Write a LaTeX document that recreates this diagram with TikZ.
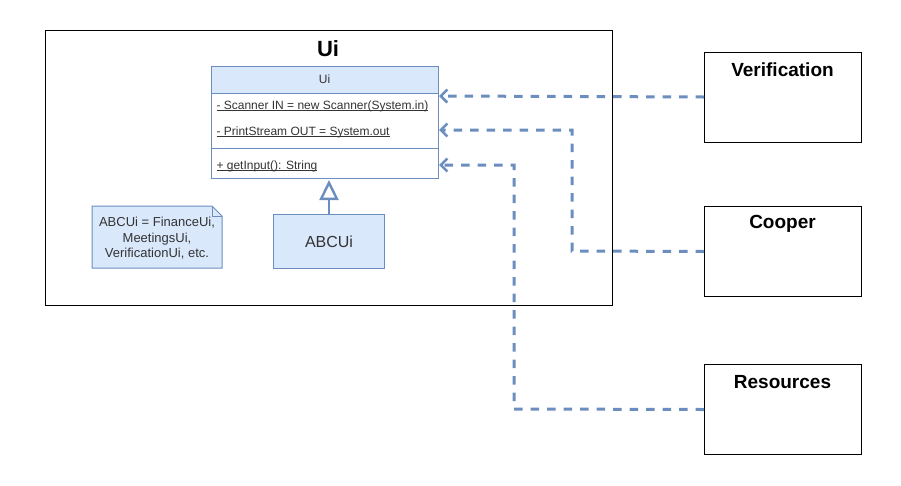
\documentclass[tikz,border=0pt]{standalone}
\usepackage{fontspec}
\setmainfont{Liberation Sans}
\newcommand\myul[1]{\setbox0=\hbox{#1}\rlap{\rule[-2pt]{\wd0}{0.8pt}}\box0}
\usetikzlibrary{arrows.meta}
\definecolor{bstroke}{HTML}{6C8EBF}
\definecolor{bfill}{HTML}{DAE8FC}
\definecolor{txt}{HTML}{333333}
\begin{document}
\begin{tikzpicture}[x=1pt,y=-1pt,
  blue box/.style={draw=bstroke,fill=bfill,line width=1pt},
  plain box/.style={draw=black,line width=1pt},
  dep/.style={draw=bstroke,line width=3pt,dash pattern=on 8.5pt off 8pt,-{Straight Barb[length=6.5pt,width=13pt,line width=2.6pt]}},
  attr/.style={anchor=west,font=\fontsize{12}{14}\selectfont,text=txt},
  title/.style={font=\bfseries\fontsize{19}{21}\selectfont}]
\useasboundingbox (0,0) rectangle (901,485);
% outer container
\node[plain box,minimum width=567pt,minimum height=275pt,anchor=north west,inner sep=0pt] (cont) at (45,30) {};
\node[font=\bfseries\fontsize{22}{24}\selectfont] (conttitle) at (328,49) {Ui};
% class
\node[blue box,minimum width=227pt,minimum height=27pt,anchor=north west,inner sep=0pt] (hdr) at (211,66) {};
\node[font=\fontsize{12}{14}\selectfont,text=txt] (hdrt) at (324.5,79.5) {Ui};
\node[draw=bstroke,fill=white,line width=1pt,minimum width=227pt,minimum height=55pt,anchor=north west,inner sep=0pt] (attrs) at (211,93) {};
\node[draw=bstroke,fill=white,line width=1pt,minimum width=227pt,minimum height=30pt,anchor=north west,inner sep=0pt] (meths) at (211,148) {};
\node[attr] (a1) at (213,106) {\myul{- Scanner IN = new Scanner(System.in)}};
\node[attr] (a2) at (213,132) {\myul{- PrintStream OUT = System.out}};
\node[attr] (m1) at (213,166) {\myul{+ getInput(): String}};
\coordinate (c1) at (439,96);
\coordinate (c2) at (439,130);
\coordinate (c3) at (439,165);
% ABCUi
\node[blue box,minimum width=111pt,minimum height=54pt,anchor=north west,inner sep=0pt] (abc) at (273,214) {};
\node[font=\fontsize{16}{18}\selectfont,text=txt] (abct) at (abc.center) {ABCUi};
\draw[draw=bstroke,line width=2.4pt,-{Triangle[open,length=20pt,width=19pt,line width=2.4pt,fill=white]}] (abc.north) -- (abc.north |- 0,180);
% note
\draw[blue box] (92,206) -- (212,206) -- (222,216) -- (222,268) -- (92,268) -- cycle;
\draw[draw=bstroke,line width=1pt] (212,206) -- (212,216) -- (222,216);
\node[align=center,font=\fontsize{13}{15.5}\selectfont,text=txt] (note) at (157,238.5) {ABCUi = FinanceUi,\\MeetingsUi,\\VerificationUi, etc.};
% right boxes
\node[plain box,minimum width=157pt,minimum height=90pt,anchor=north west,inner sep=0pt] (ver) at (704,52) {};
\node[title] (vert) at (782.5,70) {Verification};
\node[plain box,minimum width=157pt,minimum height=90pt,anchor=north west,inner sep=0pt] (coo) at (704,206) {};
\node[title] (coot) at (782.5,224) {Cooper};
\node[plain box,minimum width=157pt,minimum height=90pt,anchor=north west,inner sep=0pt] (res) at (704,364) {};
\node[title] (rest) at (782.5,382) {Resources};
% connectors
\draw[dep] (ver.west |- 0,97) -- (c1);
\draw[dep] (coo.west) -- (572,251) -- (572,130) -- (c2);
\draw[dep] (res.west) -- (514,409) -- (514,165) -- (c3);
\end{tikzpicture}
\end{document}
